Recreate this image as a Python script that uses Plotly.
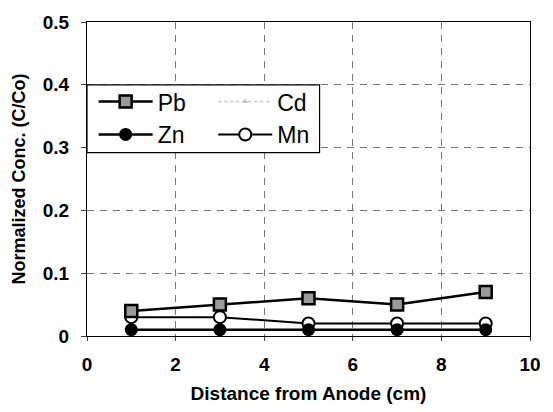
import plotly.graph_objects as go

distance = [1, 3, 5, 7, 9]
pb = [0.04, 0.05, 0.06, 0.05, 0.07]
cd = [0.03, 0.03, 0.02, 0.02, 0.02]
zn = [0.01, 0.01, 0.01, 0.01, 0.01]
mn = [0.03, 0.03, 0.02, 0.02, 0.02]

fig = go.Figure()
fig.add_trace(go.Scatter(x=distance, y=cd, name="Cd", mode="lines+markers",
                         line=dict(color="#c8c8c8", width=1.5, dash="dot"),
                         marker=dict(symbol="triangle-up", size=6, color="#c8c8c8"),
                         legend="legend2"))
fig.add_trace(go.Scatter(x=distance, y=mn, name="Mn", mode="lines+markers",
                         line=dict(color="black", width=2),
                         marker=dict(symbol="circle", size=12, color="white",
                                     line=dict(color="black", width=2)),
                         legend="legend2"))
fig.add_trace(go.Scatter(x=distance, y=zn, name="Zn", mode="lines+markers",
                         line=dict(color="black", width=2.5),
                         marker=dict(symbol="circle", size=13, color="black"),
                         legend="legend"))
fig.add_trace(go.Scatter(x=distance, y=pb, name="Pb", mode="lines+markers",
                         line=dict(color="black", width=2.5),
                         marker=dict(symbol="square", size=12, color="#9a9a9a",
                                     line=dict(color="black", width=2.5)),
                         legend="legend"))

fig.add_shape(type="rect", xref="x", yref="y", x0=0, x1=5.25, y0=0.292, y1=0.4,
              line=dict(color="black", width=1.2), fillcolor="white", layer="between")

legend_style = dict(font=dict(family="Liberation Sans, Arial", size=23, color="black"),
                    bgcolor="rgba(0,0,0,0)", borderwidth=0, itemwidth=54,
                    tracegroupgap=0, yanchor="top", xanchor="left")

tickfont = dict(size=19, family="Liberation Sans, Arial", weight="bold")

fig.update_layout(
    width=553, height=412,
    margin=dict(l=87, r=13, t=21, b=74),
    plot_bgcolor="white", paper_bgcolor="white",
    font=dict(family="Liberation Sans, Arial", color="black"),
    showlegend=True,
    legend=dict(x=0.015, y=0.815, traceorder="reversed", **legend_style),
    legend2=dict(x=0.285, y=0.815, traceorder="normal", **legend_style),
    xaxis=dict(range=[0, 10], dtick=2, showgrid=True, gridcolor="#777",
               griddash="7px,6px", gridwidth=1, showline=True, linecolor="black",
               linewidth=1.2, mirror=True, ticks="outside", ticklen=4,
               tickfont=tickfont, ticklabelstandoff=7,
               title=dict(text="<b>Distance from Anode (cm)</b>",
                          font=dict(size=19), standoff=12),
               zeroline=False),
    yaxis=dict(range=[0, 0.5], dtick=0.1, showgrid=True, gridcolor="#777",
               griddash="7px,6px", gridwidth=1, showline=True, linecolor="black",
               linewidth=1.2, mirror=True, ticks="outside", ticklen=5,
               tickfont=tickfont, ticklabelstandoff=8,
               title=dict(text="<b>Normalized Conc. (C/Co)</b>",
                          font=dict(size=18), standoff=12),
               zeroline=False),
)
fig.update_yaxes(tickvals=[0, 0.1, 0.2, 0.3, 0.4, 0.5],
                 ticktext=["0", "0.1", "0.2", "0.3", "0.4", "0.5"])

fig.write_html("out.html")
